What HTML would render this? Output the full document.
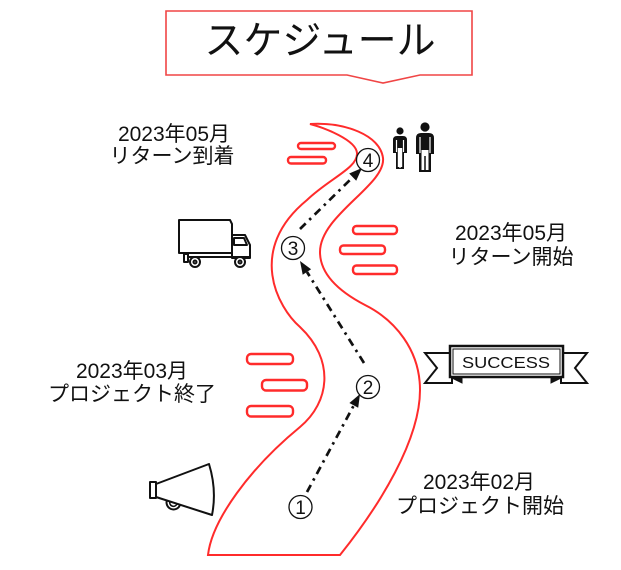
<!DOCTYPE html>
<html>
<head>
<meta charset="utf-8">
<style>
html,body{margin:0;padding:0;background:#fff;}
svg{display:block;}
.lbl{font-family:"Liberation Sans","Noto Sans CJK JP",sans-serif;font-size:21px;fill:#111;}
.num{font-family:"Liberation Sans","Noto Sans CJK JP",sans-serif;font-size:19px;fill:#111;}
</style>
</head>
<body>
<svg width="621" height="570" viewBox="0 0 621 570" xmlns="http://www.w3.org/2000/svg">
  <!-- Title box -->
  <path d="M166,11 L472,11 L472,75 L420,75 L383,83 L347,75 L166,75 Z" fill="#fff" stroke="#f04545" stroke-width="1.6"/>
  <text x="320" y="54" text-anchor="middle" style="font-family:'Liberation Sans','Noto Sans CJK JP',sans-serif;font-size:39px;fill:#111;">スケジュール</text>

  <!-- Road -->
  <path d="M310,124 C345,122 380,135 383,158 C386,185 320,215 320,252 C320,275 340,292 365,305 C395,320 420,350 420,390 C420,440 380,505 340,555 L208,555 C212,520 250,468 300,427 C330,402 335,360 300,327 C278,308 246,250 307,200 C330,178 358,168 357,153 C356,140 325,128 310,124 Z" fill="#fff" stroke="#ff2b2b" stroke-width="2"/>

  <!-- red dashes -->
  <g fill="none" stroke="#ff2b2b" stroke-width="2.4">
    <rect x="298" y="143" width="37" height="6" rx="3"/>
    <rect x="288" y="157" width="38" height="6.5" rx="3"/>
    <rect x="353" y="226" width="44" height="8" rx="3.5"/>
    <rect x="340" y="245.5" width="45" height="8.5" rx="3.5"/>
    <rect x="353" y="265.5" width="44" height="8.5" rx="3.5"/>
    <rect x="247" y="354" width="46" height="10" rx="4"/>
    <rect x="262" y="380" width="45" height="10.5" rx="4"/>
    <rect x="247" y="406" width="46" height="10.5" rx="4"/>
  </g>

  <!-- dash-dot arrows -->
  <g stroke="#111" stroke-width="2.7" stroke-dasharray="8 5 2.5 5" fill="none">
    <line x1="307" y1="492" x2="354" y2="405"/>
    <line x1="364" y1="363" x2="307" y2="272"/>
    <line x1="300" y1="229" x2="353" y2="177"/>
  </g>
  <g fill="#111">
    <polygon points="360,394 358.2,407.8 349.4,403"/>
    <polygon points="300,261 311.1,269.3 302.7,274.7"/>
    <polygon points="362,168 356.2,180.7 349.2,173.5"/>
  </g>

  <!-- circled numbers -->
  <g fill="#fff" stroke="#111" stroke-width="1.3">
    <circle cx="300.5" cy="507" r="11.5"/>
    <circle cx="368" cy="387" r="11.5"/>
    <circle cx="293" cy="248" r="11.5"/>
    <circle cx="368" cy="160" r="11.5"/>
  </g>
  <g class="num" text-anchor="middle">
    <text x="300.5" y="514">1</text>
    <text x="368" y="394">2</text>
    <text x="293" y="255">3</text>
    <text x="368" y="167">4</text>
  </g>

  <!-- Labels -->
  <g class="lbl" text-anchor="middle">
    <text x="174" y="141">2023年05月</text>
    <text x="172" y="163">リターン到着</text>
    <text x="511" y="240">2023年05月</text>
    <text x="511" y="264">リターン開始</text>
    <text x="132" y="378">2023年03月</text>
    <text x="132" y="401">プロジェクト終了</text>
    <text x="479" y="489">2023年02月</text>
    <text x="480" y="513">プロジェクト開始</text>
  </g>

  <!-- Truck -->
  <g stroke="#111" stroke-width="2" fill="#fff" stroke-linejoin="round">
    <path d="M179,220 L230,220 L232,224 L232,253 L179,253 Z"/>
    <path d="M232,235 L245,235 L250,245 L250,258 L232,258 Z"/>
    <path d="M234,238 L244,238 L247,245 L234,245 Z"/>
    <line x1="186" y1="257" x2="250" y2="257"/>
    <rect x="184" y="254" width="4" height="8"/>
    <circle cx="195" cy="262" r="5"/>
    <circle cx="240" cy="262" r="5"/>
    <circle cx="195" cy="262" r="1.5"/>
    <circle cx="240" cy="262" r="1.5"/>
  </g>

  <!-- People -->
  <g fill="#111">
    <circle cx="400" cy="131" r="3.6"/>
    <path d="M393,140 Q393,136 397,136 L403,136 Q407,136 407,140 L407,153 L404,153 L404,169 L396,169 L396,153 L393,153 Z"/>
    <circle cx="425" cy="127" r="4.6"/>
    <path d="M416,138 Q416,133 421,133 L429,133 Q434,133 434,138 L434,154 L431,154 L431,172 L419,172 L419,154 L416,154 Z"/>
  </g>
  <g stroke="#fff" stroke-width="1.2" fill="none">
    <line x1="396.5" y1="140" x2="396.5" y2="152"/>
    <line x1="403.5" y1="140" x2="403.5" y2="152"/>
    <rect x="397.8" y="148" width="4.4" height="19" fill="#fff" stroke="none"/>
    <line x1="400" y1="155" x2="400" y2="168"/>
    <line x1="420" y1="137" x2="420" y2="153"/>
    <line x1="430" y1="137" x2="430" y2="153"/>
    <rect x="421.5" y="150" width="7" height="20" fill="#fff" stroke="none"/>
    <line x1="425" y1="156" x2="425" y2="171" stroke="#111" stroke-width="1.5"/>
  </g>

  <!-- Megaphone -->
  <g stroke="#111" stroke-width="2" fill="#fff" stroke-linejoin="round">
    <path d="M167,500 A6,6 0 0,0 180,505" fill="none"/>
    <path d="M170,501 A3.5,3.5 0 0,0 177,504" fill="none" stroke-width="1.5"/>
    <rect x="150" y="482" width="6" height="16"/>
    <path d="M156,484 L209,464 Q217,490 212,515 L156,497 Z"/>
  </g>

  <!-- SUCCESS banner -->
  <g stroke="#111" stroke-width="2" fill="#fff" stroke-linejoin="miter">
    <polygon points="425,353 452,353 452,383 425,383 437,368"/>
    <polygon points="587,353 561,353 561,383 587,383 575,368"/>
    <polygon points="450,377 462,377 462,383" fill="#111" stroke-width="1"/>
    <polygon points="563,377 551,377 551,383" fill="#111" stroke-width="1"/>
    <rect x="450" y="346" width="113" height="31" stroke-width="2.5"/>
    <rect x="453" y="349" width="107" height="25" stroke-width="1" fill="none"/>
  </g>
  <text x="506" y="368" text-anchor="middle" textLength="88" lengthAdjust="spacingAndGlyphs" style="font-family:'Liberation Sans',sans-serif;font-size:16px;fill:#111;">SUCCESS</text>
</svg>
</body>
</html>
